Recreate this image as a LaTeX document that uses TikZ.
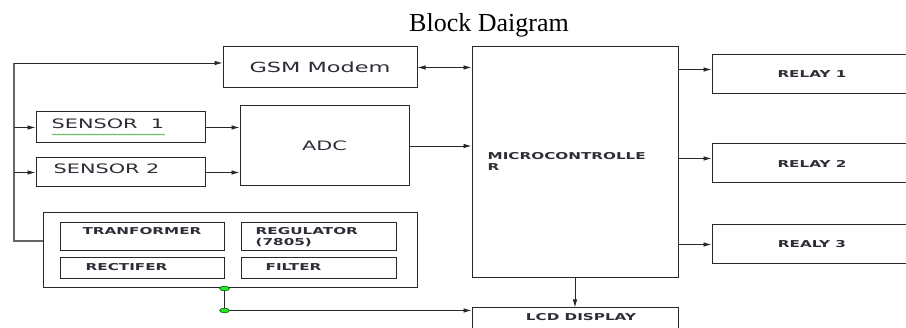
\documentclass[tikz,border=0pt]{standalone}
\usepackage{fontspec}
\newfontfamily\boxfont[FakeStretch=1.6]{DejaVu Sans}
\newfontfamily\titlefont{Liberation Serif}
\usetikzlibrary{arrows.meta, positioning, decorations.pathmorphing}
\definecolor{boxline}{RGB}{40,40,40}
\definecolor{txtcol}{RGB}{45,45,55}
\definecolor{dotgreen}{RGB}{40,230,40}
\tikzset{
  block/.style={rectangle, draw=boxline, line width=1pt, inner sep=0pt,
    fill=white, text=txtcol, align=center,
    font=\boxfont\fontsize{13}{15}\selectfont},
  smallblock/.style={block, font=\boxfont\bfseries\fontsize{9.5}{11}\selectfont},
  inlbl/.style={inner sep=0pt, text=txtcol, align=left,
    font=\boxfont\bfseries\fontsize{9.5}{11}\selectfont},
  biglbl/.style={inner sep=0pt, text=txtcol,
    font=\boxfont\fontsize{13}{15}\selectfont},
  arrow/.style={-{Latex[length=8pt,width=4.5pt]}, line width=0.8pt, draw=boxline},
  dblarrow/.style={{Latex[length=8pt,width=4.5pt]}-{Latex[length=8pt,width=4.5pt]},
    line width=0.8pt, draw=boxline},
  wire/.style={line width=0.8pt, draw=boxline},
  dot/.style={draw=green!40!black, fill=dotgreen, line width=0.6pt},
}

\begin{document}
\begin{tikzpicture}[x=1pt, y=-1pt]
  \useasboundingbox (0,0) rectangle (906,328);
  \clip (0,0) rectangle (906,328);

  \node[font=\titlefont\fontsize{26}{30}\selectfont, anchor=base] (title)
    at (489,31.5) {Block Daigram};

  % inputs
  \node[block, minimum width=194pt, minimum height=41pt,
    font=\boxfont\fontsize{14}{16}\selectfont] (gsm) at (320,67.5) {GSM Modem};
  \node[block, minimum width=169pt, minimum height=31pt,
    label={[biglbl, anchor=west, xshift=16pt, yshift=4pt]west:SENSOR\ \ 1}]
    (sensA) at (120.5,127.5) {};
  \node[block, below=14pt of sensA, minimum width=169pt, minimum height=29pt,
    label={[biglbl, anchor=west, xshift=18pt, yshift=4pt]west:SENSOR 2}]
    (sensB) {};
  \node[block, minimum width=169pt, minimum height=80pt] (adc)
    at (324.5,146) {ADC};

  % power supply
  \node[block, minimum width=374pt, minimum height=75pt] (power)
    at (230,250.5) {};
  \node[smallblock, minimum width=164pt, minimum height=28pt,
    label={[inlbl, anchor=north, yshift=-5pt]north:TRANFORMER}]
    (tran) at (142,237) {};
  \node[smallblock, right=16pt of tran, minimum width=155pt, minimum height=28pt,
    label={[inlbl, anchor=north west, xshift=15pt, yshift=-5pt]north west:REGULATOR\\(7805)}]
    (reg) {};
  \node[smallblock, below=6pt of tran, minimum width=164pt, minimum height=21pt,
    label={[inlbl, anchor=west, xshift=26pt, yshift=1pt]west:RECTIFER}]
    (recti) {};
  \node[smallblock, right=16pt of recti, minimum width=155pt, minimum height=21pt,
    label={[inlbl, anchor=west, xshift=25pt, yshift=1pt]west:FILTER}]
    (filt) {};

  % controller and outputs
  \node[block, minimum width=206pt, minimum height=231pt,
    label={[inlbl, anchor=west, xshift=16pt, yshift=1pt]west:MICROCONTROLLE\\R}]
    (micro) at (575,162.5) {};
  \node[smallblock, minimum width=200pt, minimum height=39pt] (relA)
    at (812,74.5) {RELAY 1};
  \node[smallblock, below=49pt of relA, minimum width=200pt, minimum height=39pt]
    (relB) {RELAY 2};
  \node[smallblock, below=41pt of relB, minimum width=200pt, minimum height=39pt]
    (relC) {REALY 3};
  \node[smallblock, below=29pt of micro, minimum width=206pt, minimum height=40pt,
    label={[inlbl, anchor=north, yshift=-5.5pt, xshift=6pt]north:LCD DISPLAY}]
    (lcd) {};

  % supply bus
  \coordinate (busTop) at (14,63);
  \coordinate (busBot) at (14,241);
  \draw[wire, line width=1.3pt, draw=black!60] (busBot -| power.west)
    -- (busBot) -- (busTop);
  \draw[arrow] (busTop) -- (busTop -| gsm.west);
  \draw[arrow] (busTop |- sensA) -- (sensA.west);
  \draw[arrow] (busTop |- sensB) -- (sensB.west);

  \draw[arrow] (sensA) -- (sensA -| adc.west);
  \draw[arrow] (sensB) -- (sensB -| adc.west);
  \draw[arrow] (adc) -- (adc -| micro.west);
  \draw[dblarrow] (gsm) -- (gsm -| micro.west);

  \draw[arrow] ([yshift=5pt]relA.west -| micro.east) -- ([yshift=5pt]relA.west);
  \draw[arrow] ([yshift=5pt]relB.west -| micro.east) -- ([yshift=5pt]relB.west);
  \draw[arrow] (relC -| micro.east) -- (relC.west);
  \draw[arrow] (micro) -- (lcd);

  % power to display
  \coordinate (pwrOut) at (power.south -| tran.east);
  \coordinate (junc) at ([yshift=-22pt]pwrOut);
  \draw[wire] (pwrOut) -- (junc);
  \draw[arrow] (junc) -- (junc -| lcd.west);
  \filldraw[dot] (pwrOut) ellipse (5 and 2.3);
  \filldraw[dot] (junc) ellipse (5 and 2.3);

  % spelling mark
  \draw[green!60!black, line width=0.4pt, decorate,
    decoration={snake, amplitude=0.6pt, segment length=2.5pt}]
    (52,134.5) -- (165,134.5);
\end{tikzpicture}
\end{document}
